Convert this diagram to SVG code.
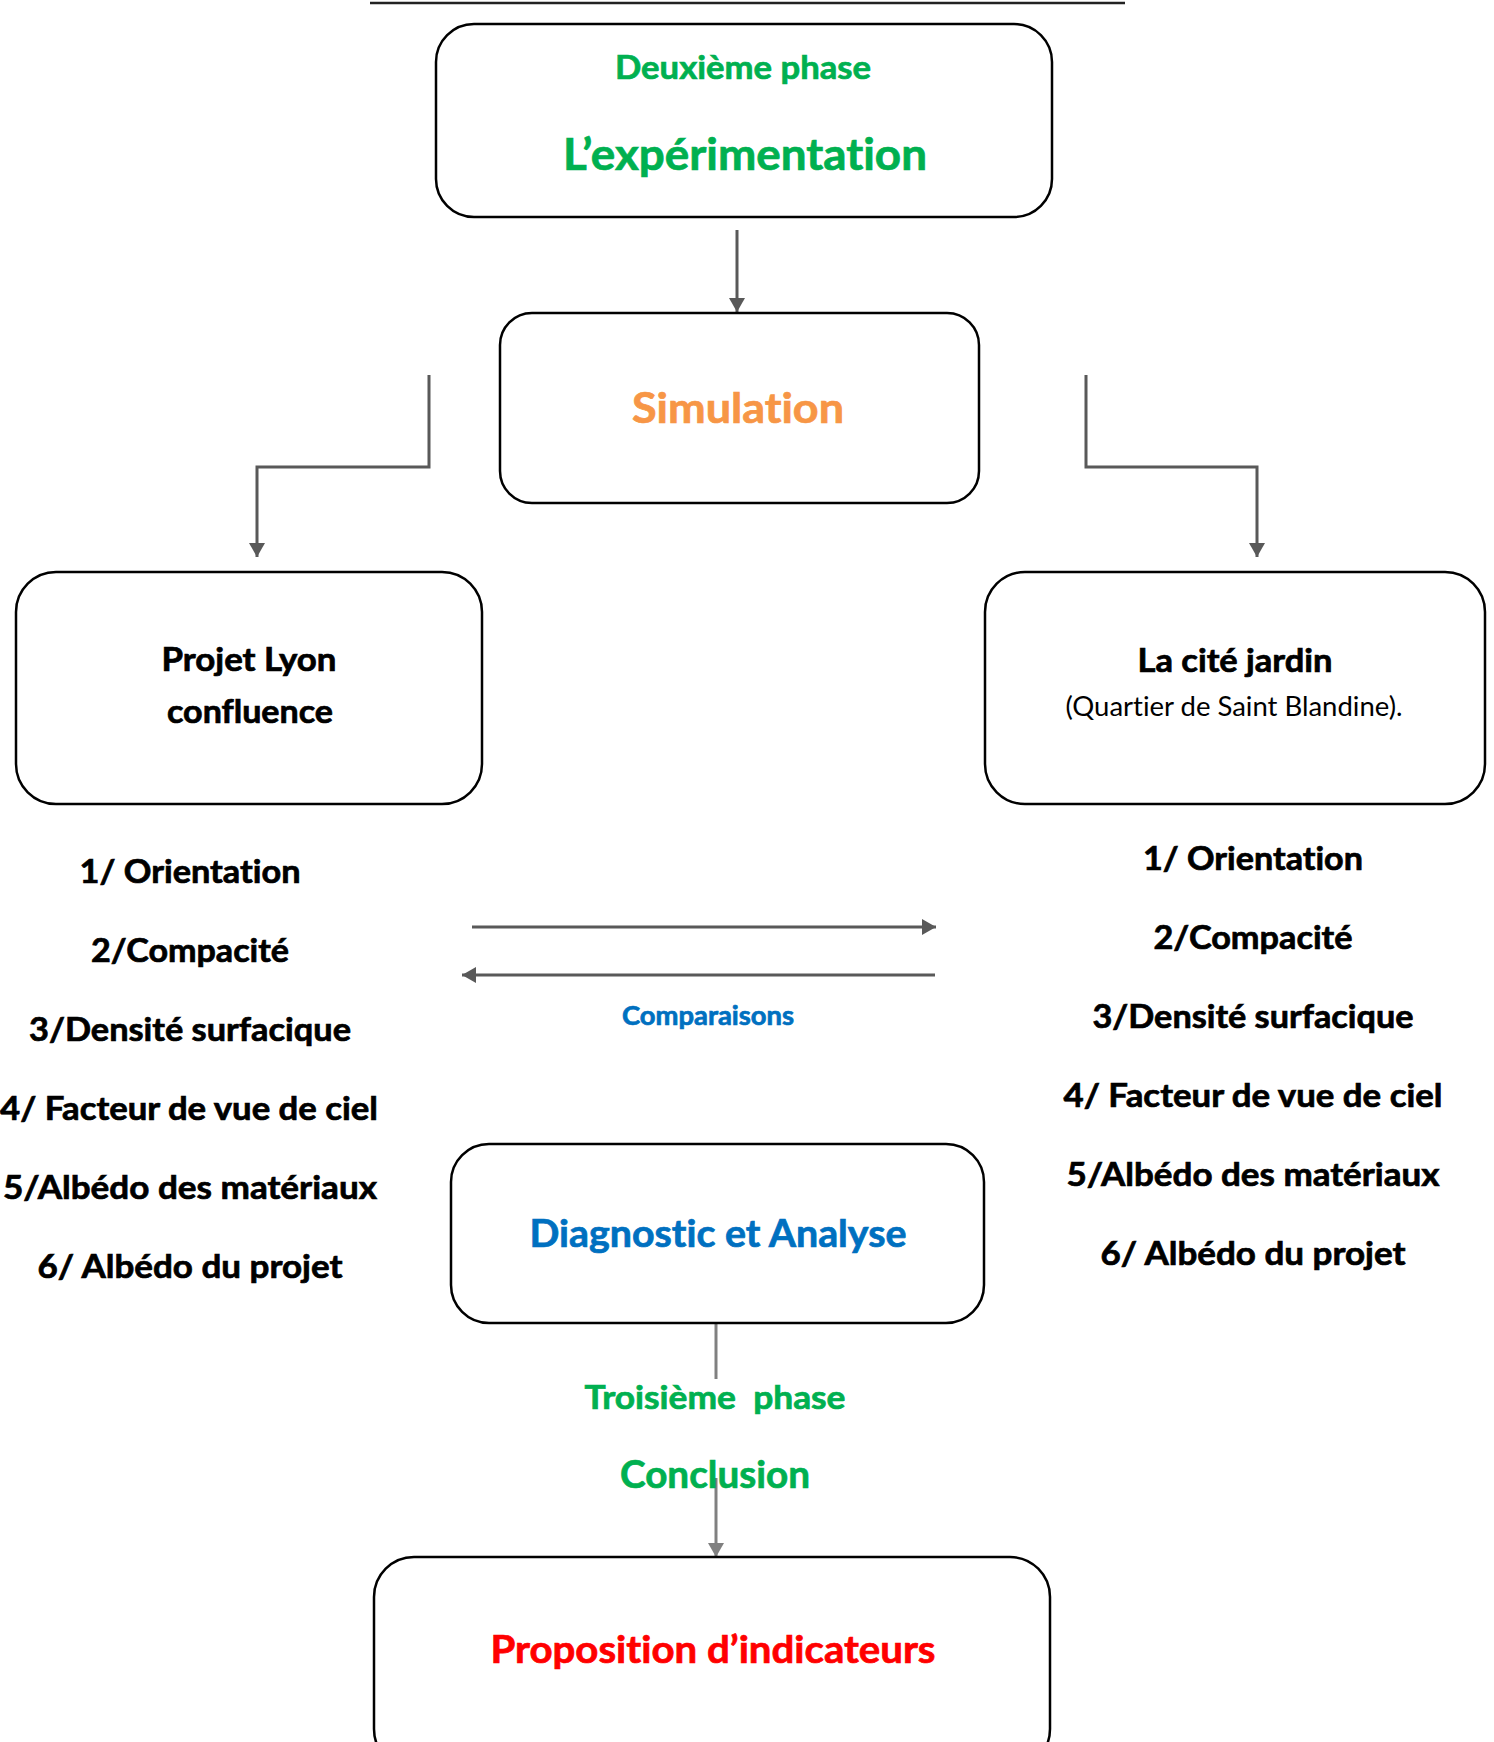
<svg xmlns="http://www.w3.org/2000/svg" width="1494" height="1742" viewBox="0 0 1494 1742">
<style>
  .box { fill: #ffffff; stroke: #000000; stroke-width: 2.5; }
  .t { font-family: Lato, "Open Sans", "Liberation Sans", sans-serif; font-weight: bold; text-anchor: middle; font-variant-ligatures: none; font-feature-settings: "liga" 0, "clig" 0, "dlig" 0, "calt" 0; stroke-width: 0.7; }
  .reg { font-weight: normal; stroke-width: 0; }
  .green { fill: #00B050; stroke: #00B050; }
  .blue { fill: #0070C0; stroke: #0070C0; }
  .orange { fill: #F79646; stroke: #F79646; }
  .red { fill: #FF0000; stroke: #FF0000; }
  .black { fill: #000000; stroke: #000000; }
  .conn { fill: none; stroke: #595959; stroke-width: 3; }
  .conn2 { fill: none; stroke: #808080; stroke-width: 3; }
</style>
<defs>
  <marker id="ah" markerUnits="userSpaceOnUse" markerWidth="16" markerHeight="16" refX="14" refY="8" orient="auto">
    <path d="M0,0 L14,8 L0,16 z" fill="#595959"/>
  </marker>
  <marker id="ah2" markerUnits="userSpaceOnUse" markerWidth="16" markerHeight="16" refX="14" refY="8" orient="auto">
    <path d="M0,0 L14,8 L0,16 z" fill="#808080"/>
  </marker>
</defs>
<rect width="1494" height="1742" fill="#ffffff"/>
<line x1="370" y1="3" x2="1125" y2="3" stroke="#222222" stroke-width="2.5"/>

<g id="connectors">
  <line class="conn" x1="737" y1="230" x2="737" y2="312" marker-end="url(#ah)"/>
  <polyline class="conn" points="429,375 429,467 257,467 257,557" marker-end="url(#ah)"/>
  <polyline class="conn" points="1086,375 1086,467 1257,467 1257,557" marker-end="url(#ah)"/>
  <line class="conn" x1="472" y1="927" x2="936" y2="927" marker-end="url(#ah)"/>
  <line class="conn" x1="935" y1="975" x2="462" y2="975" marker-end="url(#ah)"/>
  <line class="conn2" x1="716" y1="1323" x2="716" y2="1379"/>
  <line class="conn2" x1="716" y1="1478" x2="716" y2="1557" marker-end="url(#ah2)"/>
</g>

<g id="node-experimentation">
  <rect class="box" x="436" y="24" width="616" height="193" rx="38" ry="38"/>
  <text class="t green" x="743" y="79" font-size="33" textLength="256" lengthAdjust="spacingAndGlyphs">Deuxième phase</text>
  <text class="t green" x="745" y="170" font-size="43" textLength="364" lengthAdjust="spacingAndGlyphs">L’expérimentation</text>
</g>

<g id="node-simulation">
  <rect class="box" x="500" y="313" width="479" height="190" rx="32" ry="32"/>
  <text class="t orange" x="738" y="423" font-size="42" textLength="212" lengthAdjust="spacingAndGlyphs">Simulation</text>
</g>

<g id="node-lyon">
  <rect class="box" x="16" y="572" width="466" height="232" rx="40" ry="40"/>
  <text class="t black" x="249" y="671" font-size="33" textLength="175" lengthAdjust="spacingAndGlyphs">Projet Lyon</text>
  <text class="t black" x="250" y="723" font-size="33" textLength="166" lengthAdjust="spacingAndGlyphs">confluence</text>
</g>

<g id="node-cite">
  <rect class="box" x="985" y="572" width="500" height="232" rx="40" ry="40"/>
  <text class="t black" x="1235" y="672" font-size="33" textLength="195" lengthAdjust="spacingAndGlyphs">La cité jardin</text>
  <text class="t reg black" x="1234" y="716" font-size="26" textLength="337" lengthAdjust="spacingAndGlyphs">(Quartier de Saint Blandine).</text>
</g>

<g id="list-left">
  <text class="t black" x="190" y="883" font-size="33" textLength="221" lengthAdjust="spacingAndGlyphs">1/ Orientation</text>
  <text class="t black" x="190" y="962" font-size="33" textLength="198" lengthAdjust="spacingAndGlyphs">2/Compacité</text>
  <text class="t black" x="190" y="1041" font-size="33" textLength="322" lengthAdjust="spacingAndGlyphs">3/Densité surfacique</text>
  <text class="t black" x="189" y="1120" font-size="33" textLength="378" lengthAdjust="spacingAndGlyphs">4/ Facteur de vue de ciel</text>
  <text class="t black" x="190" y="1199" font-size="33" textLength="374" lengthAdjust="spacingAndGlyphs">5/Albédo des matériaux</text>
  <text class="t black" x="190" y="1278" font-size="33" textLength="305" lengthAdjust="spacingAndGlyphs">6/ Albédo du projet</text>
</g>

<g id="list-right">
  <text class="t black" x="1253" y="870" font-size="33" textLength="220" lengthAdjust="spacingAndGlyphs">1/ Orientation</text>
  <text class="t black" x="1253" y="949" font-size="33" textLength="199" lengthAdjust="spacingAndGlyphs">2/Compacité</text>
  <text class="t black" x="1253" y="1028" font-size="33" textLength="321" lengthAdjust="spacingAndGlyphs">3/Densité surfacique</text>
  <text class="t black" x="1253" y="1107" font-size="33" textLength="379" lengthAdjust="spacingAndGlyphs">4/ Facteur de vue de ciel</text>
  <text class="t black" x="1253" y="1186" font-size="33" textLength="373" lengthAdjust="spacingAndGlyphs">5/Albédo des matériaux</text>
  <text class="t black" x="1253" y="1265" font-size="33" textLength="305" lengthAdjust="spacingAndGlyphs">6/ Albédo du projet</text>
</g>

<g id="label-comparaisons">
  <text class="t blue" x="708" y="1025" font-size="26" textLength="172" lengthAdjust="spacingAndGlyphs">Comparaisons</text>
</g>

<g id="node-diagnostic">
  <rect class="box" x="451" y="1144" width="533" height="179" rx="38" ry="38"/>
  <text class="t blue" x="718" y="1247" font-size="38" textLength="377" lengthAdjust="spacingAndGlyphs">Diagnostic et Analyse</text>
</g>

<g id="label-troisieme">
  <text class="t green" x="715" y="1409" font-size="33" textLength="261" lengthAdjust="spacingAndGlyphs" style="white-space:pre">Troisième  phase</text>
  <text class="t green" x="715" y="1488" font-size="38" textLength="190" lengthAdjust="spacingAndGlyphs">Conclusion</text>
</g>

<g id="node-proposition">
  <rect class="box" x="374" y="1557" width="676" height="212" rx="40" ry="40"/>
  <text class="t red" x="713" y="1663" font-size="38" textLength="445" lengthAdjust="spacingAndGlyphs">Proposition d’indicateurs</text>
</g>
</svg>
